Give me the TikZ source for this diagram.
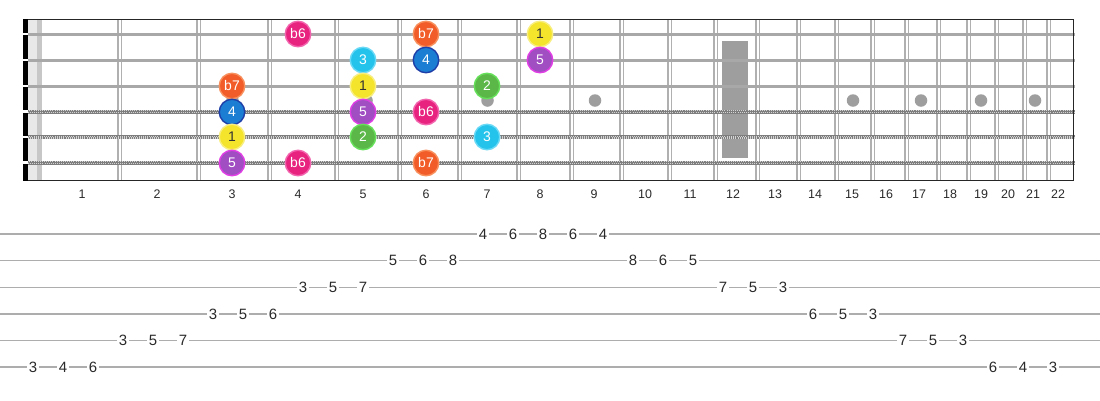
\documentclass[tikz,border=0pt]{standalone}
\usepackage{fontspec}
\setmainfont{Liberation Sans}
\definecolor{cb6}{HTML}{E8237F}\definecolor{cb6e}{HTML}{F264AE}\definecolor{ctb6}{HTML}{FFFFFF}
\definecolor{cb7}{HTML}{F25C28}\definecolor{cb7e}{HTML}{F8905E}\definecolor{ctb7}{HTML}{FFFFFF}
\definecolor{c1}{HTML}{F4E42C}\definecolor{c1e}{HTML}{F8EE80}\definecolor{ct1}{HTML}{333333}
\definecolor{c4}{HTML}{1B7ED2}\definecolor{c4e}{HTML}{1F3FA8}\definecolor{ct4}{HTML}{FFFFFF}
\definecolor{c5}{HTML}{A04EC2}\definecolor{c5e}{HTML}{E03EE4}\definecolor{ct5}{HTML}{FFFFFF}
\definecolor{c3}{HTML}{24C3EC}\definecolor{c3e}{HTML}{6AD9F6}\definecolor{ct3}{HTML}{FFFFFF}
\definecolor{c2}{HTML}{5BB848}\definecolor{c2e}{HTML}{66E05A}\definecolor{ct2}{HTML}{FFFFFF}
\definecolor{fretc}{HTML}{B0B0B0}
\definecolor{plainc}{HTML}{A8A8A8}
\definecolor{woundc}{HTML}{7E7E7E}
\definecolor{woundl}{HTML}{D4D4D4}
\definecolor{markc}{HTML}{9E9E9E}
\definecolor{tabline}{HTML}{ADADAD}
\definecolor{txt}{HTML}{2A2A2A}
\begin{document}
\begin{tikzpicture}[x=1bp,y=-1bp,
  fretline/.style={draw=fretc,line width=1.4bp},
  plainstring/.style={draw=plainc,line width=3bp},
  woundstring/.style={draw=woundc,line width=4bp},
  woundtex/.style={draw=woundl,line width=1.2bp,dash pattern=on 1bp off 1.1bp},
  marker/.style={circle,fill=markc,minimum size=12.5bp,inner sep=0},
  border/.style={draw=black!85,line width=1.8bp},
  fretnum/.style={font=\fontsize{12.5}{13}\selectfont,text=txt,inner sep=0},
  tabnum/.style={font=\fontsize{15}{16}\selectfont,text=txt,fill=white,inner sep=1.8bp},
  tabstaff/.style={draw=tabline,line width=1.6bp},
  note/.style={circle,minimum size=25.5bp,inner sep=0,line width=1.4bp,font=\fontsize{14}{14}\selectfont}
]
\useasboundingbox (0,0) rectangle (1100,400);
\fill[white] (0,0) rectangle (1100,400);
% light band near nut
\fill[black!9] (28,20) rectangle (37,180);
\fill[black!22] (37,20) rectangle (41.5,180);
% frets
\foreach \f in {118,197,268,335,398,458,517,570,620,668,714,756,797,835,871,905,937,967,995,1023,1047}{
  \draw[fretline] (\f,20) -- (\f,180);
  \draw[fretline] (\f+3.5,20) -- (\f+3.5,180);
}
% 12th fret block
\fill[markc] (722,40.7) rectangle (748,158);
% position markers
\foreach \x [count=\i] in {232.5,366.5,487.5,595,853,921,981,1035}
  \node[marker] (m\i) at (\x,100.5) {};
% strings
\foreach \y [count=\i] in {34,60,86}
  \draw[plainstring] (23,\y) -- (1075,\y);
\foreach \y in {111.5,137,162.5}{
  \draw[woundstring] (23,\y) -- (1075,\y);
  \draw[woundtex] (23,\y-0.9) -- (1075,\y-0.9);
  \draw[woundtex] (23.5,\y+0.9) -- (1075,\y+0.9);
}
% borders
\draw[border] (23,19.5) -- (1074,19.5);
\draw[border] (23,180.5) -- (1074,180.5);
\draw[border] (1073.5,19) -- (1073.5,181);
\fill[black] (23,19) rectangle (27.5,181);
\foreach \y in {34,60,86,111.5,137,162.5}
  \fill[white] (23,\y-1.2) rectangle (27.5,\y+1.2);
% fret numbers
\foreach \x [count=\i] in {82,157,232,298,363,426,487,540,594,645,690,733,775,815,852,886,919,950,981,1008,1033,1058}
  \node[fretnum] (fn\i) at (\x,194) {\i};
% notes
\foreach \x/\y/\d in {298/34/b6,426/34/b7,540/34/1,
  363/60/3,426/60/4,540/60/5,
  232/86/b7,363/86/1,487/86/2,
  232/112/4,363/112/5,426/112/b6,
  232/137/1,363/137/2,487/137/3,
  232/163/5,298/163/b6,426/163/b7}
  \node[note,fill=c\d,draw=c\d e,text=ct\d] (n\x-\y) at (\x,\y) {\d};
% tab staff
\foreach \s in {1,...,6}
  \draw[tabstaff] (0,{234+26.65*(\s-1)}) -- (1100,{234+26.65*(\s-1)});
\foreach \k/\s/\v in {0/6/3,1/6/4,2/6/6,3/5/3,4/5/5,5/5/7,6/4/3,7/4/5,8/4/6,9/3/3,10/3/5,11/3/7,12/2/5,13/2/6,14/2/8,15/1/4,16/1/6,17/1/8,18/1/6,19/1/4,20/2/8,21/2/6,22/2/5,23/3/7,24/3/5,25/3/3,26/4/6,27/4/5,28/4/3,29/5/7,30/5/5,31/5/3,32/6/6,33/6/4,34/6/3}
  \node[tabnum] (t\k) at ({33+30*\k},{234+26.65*(\s-1)}) {\v};
\end{tikzpicture}
\end{document}
